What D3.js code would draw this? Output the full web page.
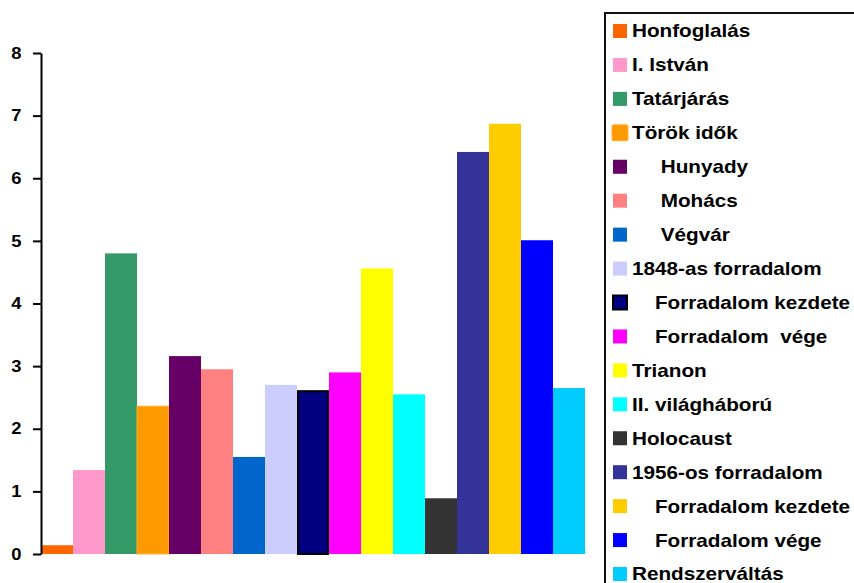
<!DOCTYPE html>
<html>
<head>
<meta charset="utf-8">
<script src="https://cdn.jsdelivr.net/npm/d3@7"></script>
<style>
  html, body { margin: 0; padding: 0; background: #fff; }
  svg { display: block; }
  text { font-family: "Liberation Sans", Arial, sans-serif; font-weight: bold; }
</style>
</head>
<body>
<script>
// Events of Hungarian history and their scores
const seriesNames = [
  "Honfoglalás", "I. István", "Tatárjárás", "Török idők",
  "     Hunyady", "     Mohács", "     Végvár", "1848-as forradalom",
  "    Forradalom kezdete", "    Forradalom  vége", "Trianon", "II. világháború",
  "Holocaust", "1956-os forradalom", "    Forradalom kezdete", "    Forradalom vége",
  "Rendszerváltás"
];
const seriesValues = [
  0.14, 1.34, 4.8, 2.36,
  3.16, 2.95, 1.55, 2.7,
  2.6, 2.9, 4.56, 2.55,
  0.89, 6.42, 6.87, 5.01,
  2.65
];
const seriesColors = [
  "#FF6600", "#FF99CC", "#339966", "#FF9900",
  "#660066", "#FF8080", "#0066CC", "#CCCCFF",
  "#000080", "#FF00FF", "#FFFF00", "#00FFFF",
  "#333333", "#333399", "#FFCC00", "#0000FF",
  "#00CCFF"
];
const yTicks = [0, 1, 2, 3, 4, 5, 6, 7, 8];

const W = 854, H = 583;
const plot = { left: 41, right: 585, top: 53, bottom: 554 };
const textStretch = 1.15;   // wide lettering used for all labels

const svg = d3.select("body").append("svg")
  .attr("width", W).attr("height", H);

const x = d3.scaleBand()
  .domain(d3.range(seriesNames.length))
  .range([plot.left, plot.right])
  .paddingInner(0).paddingOuter(0);

const y = d3.scaleLinear().domain([0, 8]).range([plot.bottom, plot.top]);

// per-series outline: most bars have none
const strokeFor = i => i === 8 ? "#000" : (i === 3 ? "#FFB030" : "none");
const strokeW = i => i === 8 ? 2 : (i === 3 ? 1 : 0);

// bars
svg.append("g").selectAll("rect")
  .data(seriesValues)
  .join("rect")
  .attr("x", (d, i) => x(i) + (i === 8 ? 1 : 0))
  .attr("width", (d, i) => x.bandwidth() - (i === 8 ? 2 : 0))
  .attr("y", d => y(d))
  .attr("height", d => y(0) - y(d))
  .attr("fill", (d, i) => seriesColors[i])
  .attr("stroke", (d, i) => strokeFor(i))
  .attr("stroke-width", (d, i) => strokeW(i));

// y axis
const yAxis = d3.axisLeft(y)
  .tickValues(yTicks)
  .tickFormat(d3.format("d"))
  .tickSize(8)
  .tickSizeOuter(0)
  .tickPadding(9);

const gy = svg.append("g")
  .attr("transform", `translate(${plot.left},0)`)
  .call(yAxis);
gy.select(".domain").attr("stroke", "#000").attr("stroke-width", 2);
gy.selectAll(".tick line").attr("stroke", "#000").attr("stroke-width", 2);
gy.selectAll(".tick text")
  .attr("fill", "#000")
  .attr("transform", `scale(${textStretch},1)`)
  .style("font-size", "16px")
  .style("font-family", "'Liberation Sans', Arial, sans-serif")
  .style("font-weight", "bold");

// legend
const legend = svg.append("g");
legend.append("rect")
  .attr("x", 605).attr("y", 13)
  .attr("width", 260).attr("height", 600)
  .attr("fill", "#fff")
  .attr("stroke", "#111")
  .attr("stroke-width", 2);

const rowY = d3.scaleLinear().domain([0, 16]).range([31, 574]);

const items = legend.selectAll("g.item")
  .data(seriesNames)
  .join("g")
  .attr("class", "item")
  .attr("transform", (d, i) => `translate(0,${rowY(i)})`);

items.append("rect")
  .attr("x", (d, i) => i === 3 ? 612 : 613)
  .attr("y", (d, i) => i === 3 ? -8 : -7)
  .attr("width", (d, i) => i === 3 ? 16 : 14)
  .attr("height", (d, i) => i === 3 ? 16 : 14)
  .attr("rx", (d, i) => i === 3 ? 1.5 : 0)
  .attr("fill", (d, i) => seriesColors[i])
  .attr("stroke", (d, i) => i === 8 ? "#000" : (i === 3 ? "#FFB030" : "none"))
  .attr("stroke-width", (d, i) => i === 8 ? 2 : (i === 3 ? 1 : 0));

const labelX = 632, labelMaxRight = 850;
items.append("text")
  .attr("transform", `translate(${labelX},0) scale(${textStretch},1)`)
  .attr("x", 0)
  .attr("y", 0)
  .attr("dy", "0.36em")
  .style("white-space", "pre")
  .style("font-size", "18px")
  .attr("fill", "#000")
  .text(d => d)
  .each(function () {
    // squeeze labels that would run past the legend edge
    const avail = (labelMaxRight - labelX) / textStretch;
    if (this.getComputedTextLength() > avail) {
      d3.select(this)
        .attr("textLength", avail)
        .attr("lengthAdjust", "spacingAndGlyphs");
    }
  });
</script>
</body>
</html>
